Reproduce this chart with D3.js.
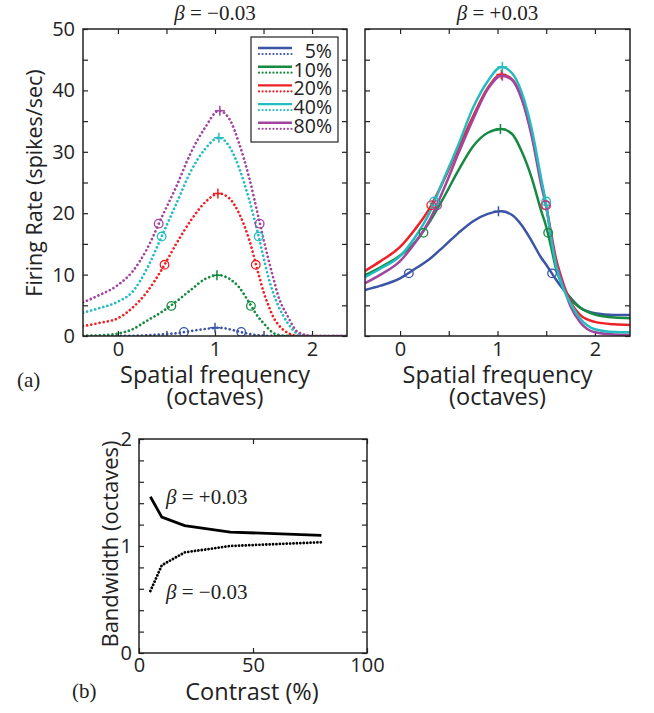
<!DOCTYPE html>
<html>
<head>
<meta charset="utf-8">
<style>
  body { margin: 0; background: #fff; }
  text { fill: #222; }
  .sans { font-family: "Open Sans", "Noto Sans", sans-serif; }
  .serif { font-family: "Liberation Serif", "DejaVu Serif", serif; }
</style>
</head>
<body>
<svg id="chart" width="654" height="713"></svg>
<script src="https://cdn.jsdelivr.net/npm/d3@7"></script>
<script>
// spatial frequency sample points (octaves)
let sf = [-0.36, -0.2, 0, 0.15, 0.3, 0.45, 0.6, 0.75, 0.9, 1.04, 1.15, 1.25, 1.35, 1.45, 1.5, 1.55, 1.6, 1.65, 1.75, 1.85, 2.0, 2.2, 2.36]
let contrasts = ["5%", "10%", "20%", "40%", "80%"]
let colors = ["#3b55a6", "#168a40", "#ee2226", "#22bcc1", "#a2459f"]

// beta = -0.03 (dotted)
let neg5 = [0, 0, 0.01, 0.03, 0.1, 0.25, 0.45, 0.8, 1.15, 1.35, 1.1, 0.7, 0.35, 0.12, 0.06, 0.03, 0.01, 0, 0, 0, 0, 0, 0]
let neg10 = [0.05, 0.1, 0.4, 1.1, 2.5, 3.9, 5.6, 7.5, 9.3, 9.9, 9.3, 7.9, 5.5, 3.0, 2.1, 1.2, 0.5, 0.2, 0.02, 0, 0, 0, 0]
let neg20 = [1.6, 2.1, 2.9, 4.6, 7.2, 10.8, 15.0, 18.8, 21.8, 23.2, 22.4, 19.9, 15.8, 10.0, 7.2, 5.0, 3.1, 1.9, 0.5, 0.05, 0, 0, 0]
let neg40 = [3.8, 4.5, 5.6, 7.2, 11.0, 16.2, 21.5, 26.8, 30.5, 32.3, 30.8, 27.3, 22.3, 16.2, 12.8, 9.6, 7.0, 5.0, 2.1, 0.4, 0, 0, 0]
let neg80 = [5.5, 6.6, 8.3, 10.5, 14.2, 19.3, 24.3, 29.8, 34.0, 36.7, 35.3, 31.3, 25.9, 19.2, 15.8, 12.5, 9.5, 6.6, 3.2, 0.7, 0, 0, 0]

// beta = +0.03 (solid)
let pos5 = [7.5, 8.2, 9.4, 10.9, 12.5, 14.6, 16.8, 18.7, 19.9, 20.3, 19.7, 18.0, 15.5, 12.7, 11.6, 10.4, 9.2, 8.1, 6.2, 4.6, 3.7, 3.4, 3.4]
let pos10 = [9.9, 11.2, 13.1, 15.2, 18.5, 22.6, 27.0, 30.9, 33.1, 33.7, 32.9, 30.0, 25.8, 20.3, 17.8, 14.5, 11.0, 8.8, 6.0, 4.6, 3.5, 3.0, 2.9]
let pos20 = [10.6, 12.2, 14.5, 17.3, 20.7, 25.4, 30.6, 35.8, 40.4, 42.6, 41.8, 38.7, 33.0, 25.0, 21.2, 16.8, 12.6, 9.8, 5.6, 3.4, 2.3, 1.9, 1.8]
let pos40 = [9.6, 11.0, 13.0, 16.0, 20.0, 25.6, 31.2, 37.2, 41.5, 43.8, 42.8, 39.6, 33.8, 25.5, 21.4, 16.0, 11.5, 8.8, 5.3, 2.8, 1.1, 0.65, 0.6]
let pos80 = [8.6, 10.0, 12.2, 15.1, 18.8, 24.0, 29.8, 35.3, 40.2, 42.4, 41.7, 38.5, 32.6, 24.5, 21.0, 16.2, 12.0, 9.4, 4.8, 2.2, 0.6, 0.25, 0.2]

// peaks (+) and half-height points (o)
let negPeaks = [[1.0, 1.35], [1.02, 9.9], [1.03, 23.2], [1.04, 32.3], [1.05, 36.7]]
let negHalf = [[[0.68, 0.65], [1.27, 0.65]], [[0.55, 4.9], [1.37, 4.9]], [[0.48, 11.6], [1.42, 11.6]], [[0.45, 16.2], [1.45, 16.2]], [[0.42, 18.3], [1.46, 18.3]]]
let posPeaks = [[1.01, 20.3], [1.03, 33.7], [1.04, 42.6], [1.05, 43.8], [1.05, 42.4]]
let posHalf = [[[0.09, 10.2], [1.56, 10.2]], [[0.24, 16.8], [1.52, 16.8]], [[0.32, 21.3], [1.49, 21.3]], [[0.35, 21.9], [1.5, 21.9]], [[0.38, 21.3], [1.5, 21.3]]]

// panel (b): bandwidth vs contrast
let contrastPct = [5, 10, 20, 40, 80]
let bwPos = [1.46, 1.27, 1.19, 1.13, 1.10]
let bwNeg = [0.58, 0.82, 0.94, 1.00, 1.035]

let svg = d3.select("#chart")
let dark = "#222"

function frame(g, x, y, w, h) {
    g.append("rect").attr("x", x).attr("y", y).attr("width", w).attr("height", h)
        .attr("fill", "none").attr("stroke", dark).attr("stroke-width", 1.5)
}

function styleAxes(g) {
    g.selectAll(".domain").remove()
    g.selectAll(".tick line").attr("stroke", dark).attr("stroke-width", 1.2)
    g.selectAll(".tick text").filter(function () { return this.textContent == "" }).remove()
    g.selectAll(".tick text").attr("class", "sans").attr("font-size", 20).attr("fill", dark)
}

function tuningPanel(x0, x1, y0, y1, series, peaks, halves, dotted, showY, title, id) {
    let x = d3.scaleLinear().domain([-0.36, 2.36]).range([x0, x1])
    let y = d3.scaleLinear().domain([0, 50]).range([y1, y0])
    let g = svg.append("g")

    // ticks inward, all four sides
    let xt = [0, 0.5, 1, 1.5, 2]
    let yt = d3.range(0, 51, 5)
    g.append("g").attr("transform", `translate(0,${y1})`)
        .call(d3.axisBottom(x).tickValues(xt).tickSize(-5).tickPadding(6)
            .tickFormat(d => Number.isInteger(d) ? d : ""))
    g.append("g").attr("transform", `translate(0,${y0})`)
        .call(d3.axisTop(x).tickValues(xt).tickSize(-5).tickFormat(""))
    g.append("g").attr("transform", `translate(${x0},0)`)
        .call(d3.axisLeft(y).tickValues(yt).tickSize(-5).tickPadding(8)
            .tickFormat(d => showY && d % 10 == 0 ? d : ""))
    g.append("g").attr("transform", `translate(${x1},0)`)
        .call(d3.axisRight(y).tickValues(yt).tickSize(-5).tickFormat(""))
    styleAxes(g)

    svg.append("clipPath").attr("id", id).append("rect")
        .attr("x", x0).attr("y", y0).attr("width", x1 - x0).attr("height", y1 - y0)

    let line = d3.line().x((d, i) => x(sf[i])).y(d => y(d)).curve(d3.curveMonotoneX)
    let lines = svg.append("g").attr("clip-path", `url(#${id})`)
    let order = dotted ? [0, 1, 2, 3, 4] : [0, 1, 2, 4, 3]
    order.forEach(k => {
        let p = lines.append("path").attr("d", line(series[k]))
            .attr("fill", "none").attr("stroke", colors[k])
        if (dotted) {
            p.attr("stroke-width", 2.7).attr("stroke-dasharray", "0.01 4.2").attr("stroke-linecap", "round")
        } else {
            p.attr("stroke-width", 2.5)
        }
    })

    // markers
    order.forEach(k => {
        let pk = peaks[k]
        lines.append("path")
            .attr("d", `M${x(pk[0]) - 5},${y(pk[1])}h10M${x(pk[0])},${y(pk[1]) - 5}v10`)
            .attr("stroke", colors[k]).attr("stroke-width", 1.5)
        halves[k].forEach(h => {
            lines.append("circle").attr("cx", x(h[0])).attr("cy", y(h[1])).attr("r", 4.3)
                .attr("fill", "none").attr("stroke", colors[k]).attr("stroke-width", 1.3)
        })
    })

    frame(svg, x0, y0, x1 - x0, y1 - y0)

    // title
    let t = svg.append("text").attr("class", "serif").attr("x", (x0 + x1) / 2).attr("y", 20)
        .attr("text-anchor", "middle").attr("font-size", 21)
    t.append("tspan").attr("font-style", "italic").text("β")
    t.append("tspan").text(title)

    // x label, two lines
    let xl = svg.append("text").attr("class", "sans").attr("text-anchor", "middle").attr("font-size", 23.5)
    xl.append("tspan").attr("x", x(1)).attr("y", 383).text("Spatial frequency")
    xl.append("tspan").attr("x", x(1)).attr("y", 405).text("(octaves)")
    return { x, y }
}

tuningPanel(83, 347, 29, 336, [neg5, neg10, neg20, neg40, neg80], negPeaks, negHalf, true, true, " = \u22120.03", "clipL")
tuningPanel(365, 630, 29, 336, [pos5, pos10, pos20, pos40, pos80], posPeaks, posHalf, false, false, " = +0.03", "clipR")

// y label panel (a)
svg.append("text").attr("class", "sans").attr("transform", "translate(42,183) rotate(-90)")
    .attr("text-anchor", "middle").attr("font-size", 21.5).text("Firing Rate (spikes/sec)")
svg.append("text").attr("class", "serif").attr("x", 17).attr("y", 387).attr("font-size", 21).text("(a)")

// legend
let leg = svg.append("g")
leg.append("rect").attr("x", 251).attr("y", 37).attr("width", 87).attr("height", 105)
    .attr("fill", "#fff").attr("stroke", dark).attr("stroke-width", 1.2)
let legText = leg.append("text").attr("class", "sans").attr("text-anchor", "end").attr("font-size", 19.5)
contrasts.forEach((c, i) => {
    let cy = 51 + i * 18.7
    leg.append("line").attr("x1", 258).attr("x2", 292).attr("y1", cy - 3).attr("y2", cy - 3)
        .attr("stroke", colors[i]).attr("stroke-width", 2.4)
    leg.append("line").attr("x1", 259).attr("x2", 292).attr("y1", cy + 3).attr("y2", cy + 3)
        .attr("stroke", colors[i]).attr("stroke-width", 2.2)
        .attr("stroke-dasharray", "0.01 3.6").attr("stroke-linecap", "round")
    legText.append("tspan").attr("x", 332).attr("y", cy + 7).text(c)
})

// panel (b)
let bx = d3.scaleLinear().domain([0, 100]).range([139, 367])
let by = d3.scaleLinear().domain([0, 2]).range([653, 439])
let gb = svg.append("g")
gb.append("g").attr("transform", "translate(0,653)")
    .call(d3.axisBottom(bx).tickValues([0, 50, 100]).tickSize(-5).tickPadding(5))
gb.append("g").attr("transform", "translate(0,439)")
    .call(d3.axisTop(bx).tickValues([0, 50, 100]).tickSize(-5).tickFormat(""))
gb.append("g").attr("transform", "translate(139,0)")
    .call(d3.axisLeft(by).tickValues(d3.range(0, 2.01, 0.2)).tickSize(-5).tickPadding(7)
        .tickFormat(d => Math.abs(d - Math.round(d)) < 1e-6 ? Math.round(d) : ""))
gb.append("g").attr("transform", "translate(367,0)")
    .call(d3.axisRight(by).tickValues(d3.range(0, 2.01, 0.2)).tickSize(-5).tickFormat(""))
styleAxes(gb)
frame(svg, 139, 439, 228, 214)

let bline = d3.line().x((d, i) => bx(contrastPct[i])).y(d => by(d))
svg.append("path").attr("d", bline(bwPos)).attr("fill", "none").attr("stroke", "#000").attr("stroke-width", 2.8)
svg.append("path").attr("d", bline(bwNeg)).attr("fill", "none").attr("stroke", "#000")
    .attr("stroke-width", 2.8).attr("stroke-dasharray", "0.01 3.4").attr("stroke-linecap", "round")

let a1 = svg.append("text").attr("class", "serif").attr("x", 166).attr("y", 504).attr("font-size", 21)
a1.append("tspan").attr("font-style", "italic").text("β")
a1.append("tspan").text(" = +0.03")
let a2 = svg.append("text").attr("class", "serif").attr("x", 166).attr("y", 599).attr("font-size", 21)
a2.append("tspan").attr("font-style", "italic").text("β")
a2.append("tspan").text(" = \u22120.03")

svg.append("text").attr("class", "sans").attr("transform", "translate(118,544) rotate(-90)")
    .attr("text-anchor", "middle").attr("font-size", 22).text("Bandwidth (octaves)")
svg.append("text").attr("class", "sans").attr("x", 252).attr("y", 700)
    .attr("text-anchor", "middle").attr("font-size", 23.5).text("Contrast (%)")
svg.append("text").attr("class", "serif").attr("x", 72).attr("y", 698).attr("font-size", 21).text("(b)")
</script>
</body>
</html>
